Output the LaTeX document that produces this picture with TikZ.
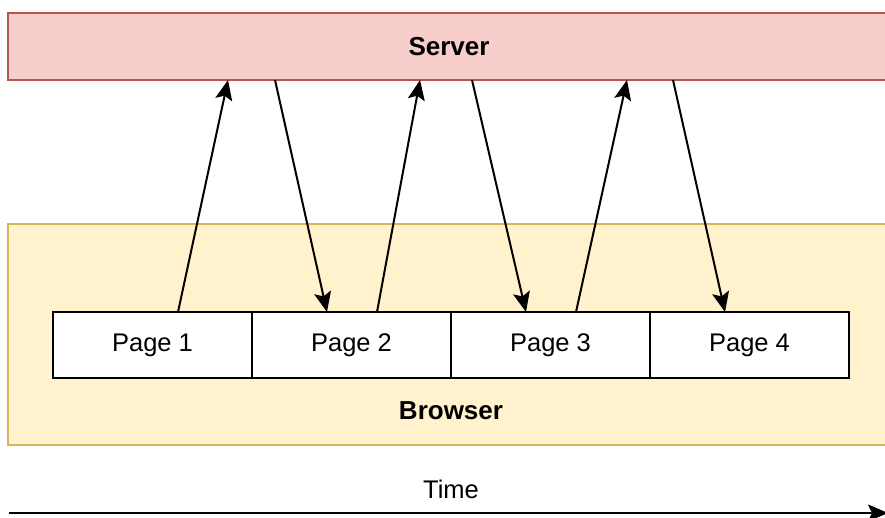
\documentclass[tikz,border=0pt]{standalone}
\usepackage{fontspec}
\setmainfont{Liberation Sans}
\usetikzlibrary{positioning}
\usetikzlibrary{arrows.meta}
\definecolor{serverfill}{HTML}{F8CECC}
\definecolor{serverline}{HTML}{B85450}
\definecolor{browserfill}{HTML}{FFF2CC}
\definecolor{browserline}{HTML}{D6B656}
\tikzstyle{tier} = [rectangle, line width=2pt, anchor=north west, inner sep=0pt,
outer sep=0pt, font=\fontsize{26}{30}\selectfont\bfseries]
\tikzstyle{server} = [tier, fill=serverfill, draw=serverline, minimum width=882pt, minimum height=67pt]
\tikzstyle{browser} = [tier, fill=browserfill, draw=browserline, minimum width=882pt, minimum height=221pt]
\tikzstyle{page} = [rectangle, draw=black, fill=white, line width=2pt, inner sep=0pt,
outer sep=0pt, minimum width=199pt, minimum height=66pt, font=\fontsize{25.5}{30}\selectfont]
\tikzstyle{caption} = [font=\fontsize{25.5}{30}\selectfont]
\tikzstyle{request} = [-{Stealth[length=20pt,width=17pt,inset=4pt]}, line width=2pt]

\begin{document}
\begin{tikzpicture}[x=1pt, y=-1pt]
  \useasboundingbox (0,0) rectangle (885,518);
  \node[server] (server) at (8,13) {Server};
  \node[browser] (browser) at (8,224) {};

  \node[page, anchor=north west] (p1) at (53,312) {Page 1};
  \node[page, right=0pt of p1] (p2) {Page 2};
  \node[page, right=0pt of p2] (p3) {Page 3};
  \node[page, right=0pt of p3] (p4) {Page 4};
  \node[caption, font=\fontsize{26}{30}\selectfont\bfseries] (blabel) at ([yshift=-33pt]p2.south east) {Browser};

  % points on the server's lower edge
  \coordinate (s1) at ([xshift=220pt]server.south west);
  \coordinate (s2) at ([xshift=267pt]server.south west);
  \coordinate (s3) at ([xshift=412pt]server.south west);
  \coordinate (s4) at ([xshift=464pt]server.south west);
  \coordinate (s5) at ([xshift=619pt]server.south west);
  \coordinate (s6) at ([xshift=665pt]server.south west);

  \draw[request] ([xshift=125pt]p1.north west) -- (s1);
  \draw[request] (s2) -- ([xshift=75pt]p2.north west);
  \draw[request] ([xshift=125pt]p2.north west) -- (s3);
  \draw[request] (s4) -- ([xshift=75pt]p3.north west);
  \draw[request] ([xshift=125pt]p3.north west) -- (s5);
  \draw[request] (s6) -- ([xshift=75pt]p4.north west);

  \coordinate (t0) at (9,513);
  \coordinate (t1) at (888,513);
  \draw[request] (t0) -- (t1);
  \node[caption] (tlabel) at (451,489) {Time};
\end{tikzpicture}
\end{document}
